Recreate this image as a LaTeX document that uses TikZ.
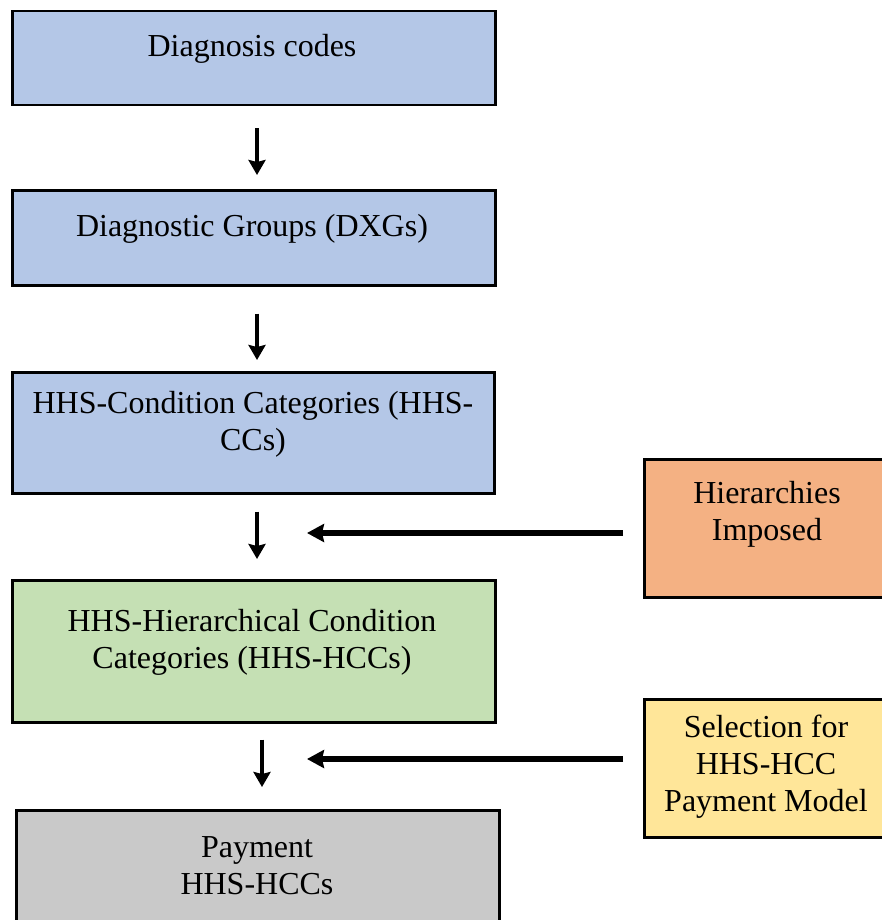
\documentclass[tikz,border=0pt]{standalone}
\usepackage{fontspec}
\setmainfont{Liberation Serif}
\usetikzlibrary{arrows.meta}
\definecolor{cblue}{HTML}{B4C7E7}
\definecolor{cgreen}{HTML}{C5E0B4}
\definecolor{cgray}{HTML}{C9C9C9}
\definecolor{corange}{HTML}{F4B183}
\definecolor{cyellow}{HTML}{FFE699}
\newcommand{\boxtext}[2]{\parbox[t]{#1pt}{\centering\fontsize{32}{37}\selectfont #2}}
\begin{document}
\begin{tikzpicture}[x=1pt,y=-1pt,
  flowbox/.style={draw=black, line width=2.5pt, rectangle, inner sep=0pt, anchor=north west},
  lbl/.style={anchor=base, inner sep=0pt},
  varrow/.style={line width=4.5pt, -{Stealth[length=15pt,width=17pt,inset=2pt]}},
  harrow/.style={line width=5.5pt, -{Stealth[length=17pt,width=18pt,inset=2pt]}}]
\useasboundingbox (0,0) rectangle (882,920);
% main column
\node[flowbox, fill=cblue, minimum width=483pt, minimum height=94pt] (b1) at (11,10) {};
\node[flowbox, fill=cblue, minimum width=483pt, minimum height=95pt] (b2) at (11,189) {};
\node[flowbox, fill=cblue, minimum width=482pt, minimum height=121pt] (b3) at (11,371) {};
\node[flowbox, fill=cgreen, minimum width=483pt, minimum height=142pt] (b4) at (11,579) {};
\node[flowbox, fill=cgray, minimum width=483pt, minimum height=140pt] (b5) at (15,809) {};
% side boxes
\node[flowbox, fill=corange, minimum width=250pt, minimum height=138pt] (or) at (643,458) {};
\node[flowbox, fill=cyellow, minimum width=250pt, minimum height=138pt] (ye) at (643,698) {};
% labels
\node[lbl] (t1) at (252,57) {\boxtext{470}{Diagnosis codes}};
\node[lbl] (t2) at (252,236) {\boxtext{470}{Diagnostic Groups (DXGs)}};
\node[lbl] (t3) at (253,413) {\boxtext{470}{HHS-Condition Categories (HHS-\\CCs)}};
\node[lbl] (t4) at (252,631) {\boxtext{470}{HHS-Hierarchical Condition\\Categories (HHS-HCCs)}};
\node[lbl] (t5) at (257,857) {\boxtext{470}{Payment\\HHS-HCCs}};
\node[lbl] (t6) at (767,503) {\boxtext{240}{Hierarchies\\Imposed}};
\node[lbl] (t7) at (766,737) {\boxtext{240}{Selection for\\HHS-HCC\\Payment Model}};
% vertical arrows
\coordinate (xa) at (257,0);
\coordinate (xb) at (262,0);
\draw[varrow, shorten <=22pt, shorten >=14pt] (b1.south -| xa) -- (b2.north -| xa);
\draw[varrow, shorten <=27pt, shorten >=11pt] (b2.south -| xa) -- (b3.north -| xa);
\draw[varrow, shorten <=17pt, shorten >=20pt] (b3.south -| xa) -- (b4.north -| xa);
\draw[varrow, shorten <=16pt, shorten >=22pt] (b4.south -| xb) -- (b5.north -| xb);
% horizontal arrows
\coordinate (h1a) at (623,533);
\coordinate (h1b) at (307,533);
\coordinate (h2a) at (623,759);
\coordinate (h2b) at (307,759);
\draw[harrow] (h1a) -- (h1b);
\draw[harrow] (h2a) -- (h2b);
\end{tikzpicture}
\end{document}
